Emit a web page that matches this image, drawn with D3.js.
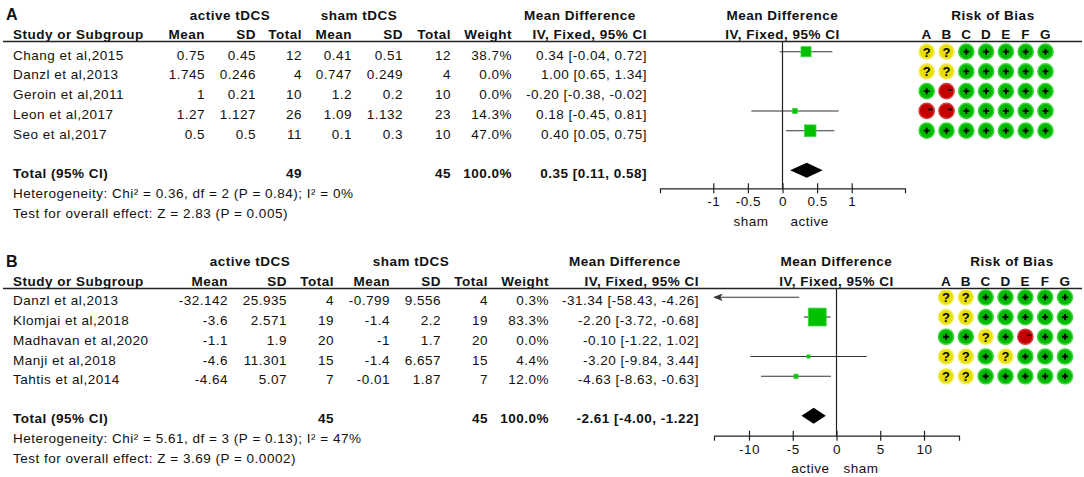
<!DOCTYPE html>
<html><head><meta charset="utf-8">
<script src="https://cdn.jsdelivr.net/npm/d3@7"></script>
<style>
body{margin:0;background:#fff;}
svg text{font-family:"Liberation Sans",Arial,sans-serif;font-size:13.5px;fill:#111;letter-spacing:0.5px;}
svg text.b{font-weight:bold;}
</style></head><body>
<svg id="c" width="1084" height="477"></svg>
<script>
// ---------- Panel A data ----------
const studiesA = ["Chang et al,2015","Danzl et al,2013","Geroin et al,2011","Leon et al,2017","Seo et al,2017"];
const activeMeanA = [0.75,1.745,1,1.27,0.5];
const activeSDA = [0.45,0.246,0.21,1.127,0.5];
const activeNA = [12,4,10,26,11];
const shamMeanA = [0.41,0.747,1.2,1.09,0.1];
const shamSDA = [0.51,0.249,0.2,1.132,0.3];
const shamNA = [12,4,10,23,10];
const weightA = [38.7,0.0,0.0,14.3,47.0];
const mdA = [0.34,1.00,-0.20,0.18,0.40];
const loA = [-0.04,0.65,-0.38,-0.45,0.05];
const hiA = [0.72,1.34,-0.02,0.81,0.75];
const robA = ["??+++++","??+++++","+-+++++","--+++++","+++++++"];
const totalA = [49,45,100.0,0.35,0.11,0.58];
const hetA = "Heterogeneity: Chi² = 0.36, df = 2 (P = 0.84); I² = 0%";
const testA = "Test for overall effect: Z = 2.83 (P = 0.005)";
const ticksA = [-1,-0.5,0,0.5,1];
const favA = ["sham","active"];

// ---------- Panel B data ----------
const studiesB = ["Danzl et al,2013","Klomjai et al,2018","Madhavan et al,2020","Manji et al,2018","Tahtis et al,2014"];
const activeMeanB = [-32.142,-3.6,-1.1,-4.6,-4.64];
const activeSDB = [25.935,2.571,1.9,11.301,5.07];
const activeNB = [4,19,20,15,7];
const shamMeanB = [-0.799,-1.4,-1,-1.4,-0.01];
const shamSDB = [9.556,2.2,1.7,6.657,1.87];
const shamNB = [4,19,20,15,7];
const weightB = [0.3,83.3,0.0,4.4,12.0];
const mdB = [-31.34,-2.20,-0.10,-3.20,-4.63];
const loB = [-58.43,-3.72,-1.22,-9.84,-8.63];
const hiB = [-4.26,-0.68,1.02,3.44,-0.63];
const robB = ["??+++++","??+++++","++?+-++","??+?+++","??+++++"];
const totalB = [45,45,100.0,-2.61,-4.00,-1.22];
const hetB = "Heterogeneity: Chi² = 5.61, df = 3 (P = 0.13); I² = 47%";
const testB = "Test for overall effect: Z = 3.69 (P = 0.0002)";
const ticksB = [-10,-5,0,5,10];
const favB = ["active","sham"];

const robLetters = ["A","B","C","D","E","F","G"];

const svg = d3.select("#c");
const f2 = v => v.toFixed(2);
const ciText = (m,l,h) => f2(m) + " [" + f2(l) + ", " + f2(h) + "]";
const boxSize = d3.scalePow().exponent(0.75).domain([0,100]).range([0,20.5]);

function panel(d, L) {
  const g = svg.append("g");
  const y = d3.scaleLinear().domain([0,6]).range([L.row0, L.rowTot]);
  const x = L.x;
  const txt = (s, xx, yy, anchor, bold) => g.append("text").attr("x", xx).attr("y", yy)
      .attr("text-anchor", anchor || "start").attr("class", bold ? "b" : null).text(s);

  // panel label
  g.append("text").attr("x", 6).attr("y", L.labelY).attr("class","b").style("font-size","16px").text(d.label);
  // group headers
  txt("active tDCS", L.grp[0], L.h1, "middle", true);
  txt("sham tDCS", L.grp[1], L.h1, "middle", true);
  txt("Mean Difference", L.grp[2], L.h1, "middle", true);
  txt("Mean Difference", x(0), L.h1, "middle", true);
  txt("Risk of Bias", L.robHead, L.h1, "middle", true);
  // column headers
  const C = L.cols;
  txt("Study or Subgroup", 13, L.h2, "start", true);
  txt("Mean", C[0], L.h2, "end", true);
  txt("SD", C[1], L.h2, "end", true);
  txt("Total", C[2], L.h2, "end", true);
  txt("Mean", C[3], L.h2, "end", true);
  txt("SD", C[4], L.h2, "end", true);
  txt("Total", C[5], L.h2, "end", true);
  txt("Weight", C[6], L.h2, "end", true);
  txt("IV, Fixed, 95% CI", C[7], L.h2, "end", true);
  txt("IV, Fixed, 95% CI", x(0), L.h2, "middle", true);
  robLetters.forEach(l => txt(l, L.robX(l), L.h2, "middle", true));
  // rule
  g.append("line").attr("x1", 3).attr("x2", 1082).attr("y1", L.rule).attr("y2", L.rule)
    .attr("stroke", "#222").attr("stroke-width", 1.3);

  // rows
  d.studies.forEach((s, i) => {
    const yy = y(i), ty = yy + 8;
    txt(s, 13, ty);
    txt(String(d.aM[i]), C[0], ty, "end");
    txt(String(d.aSD[i]), C[1], ty, "end");
    txt(String(d.aN[i]), C[2], ty, "end");
    txt(String(d.sM[i]), C[3], ty, "end");
    txt(String(d.sSD[i]), C[4], ty, "end");
    txt(String(d.sN[i]), C[5], ty, "end");
    txt(d.w[i].toFixed(1) + "%", C[6], ty, "end");
    txt(ciText(d.md[i], d.lo[i], d.hi[i]), C[7], ty, "end");

    if (d.w[i] > 0) {
      const [d0, d1] = x.domain();
      const l = Math.max(d.lo[i], d0), h = Math.min(d.hi[i], d1);
      g.append("line").attr("x1", x(l)).attr("x2", x(h)).attr("y1", yy).attr("y2", yy)
        .attr("stroke", "#333").attr("stroke-width", 1.1);
      if (d.lo[i] < d0) {
        const ax = x(d0);
        g.append("path").attr("d", `M${ax},${yy} L${ax+8},${yy-3.2} L${ax+6},${yy} L${ax+8},${yy+3.2} Z`)
          .attr("fill", "#333").attr("stroke", "#333").attr("stroke-width", 0.6);
      }
      if (d.hi[i] > d1) {
        const ax = x(d1);
        g.append("path").attr("d", `M${ax},${yy} L${ax-8},${yy-3.2} L${ax-6},${yy} L${ax-8},${yy+3.2} Z`)
          .attr("fill", "#333");
      }
      if (d.md[i] >= d0 && d.md[i] <= d1) {
        const sz = Math.max(3.3, boxSize(d.w[i]));
        g.append("rect").attr("x", x(d.md[i]) - sz/2).attr("y", yy - sz/2)
          .attr("width", sz).attr("height", sz)
          .attr("fill", "#00c000").attr("stroke", "#3fd43f").attr("stroke-width", 0.8);
      }
    }
    // risk of bias
    d.rob[i].split("").forEach((r, j) => {
      const cx = L.robX(robLetters[j]);
      const fill = r === "+" ? "#00b800" : r === "?" ? "#e8de00" : "#c40000";
      const ring = r === "+" ? "#3ad83a" : r === "?" ? "#f3ee6a" : "#d43c3c";
      g.append("circle").attr("cx", cx).attr("cy", yy).attr("r", 7.6)
        .attr("fill", fill).attr("stroke", ring).attr("stroke-width", 1.5);
      if (r === "+") {
        g.append("path").attr("d", `M${cx-3},${yy} H${cx+3} M${cx},${yy-3} V${yy+3}`)
          .attr("stroke", "#000").attr("stroke-width", 1.8);
      } else if (r === "?") {
        g.append("text").attr("x", cx).attr("y", yy + 4.8).attr("text-anchor", "middle")
          .attr("class", "b").style("font-size", "13px").style("letter-spacing", "0px").style("fill", "#000").text("?");
      } else {
        g.append("path").attr("d", `M${cx+1.5},${yy-1.5} H${cx+6}`)
          .attr("stroke", "#000").attr("stroke-width", 1.6);
      }
    });
  });

  // total row
  const yt = y(6), tt = yt + 7.5;
  txt("Total (95% CI)", 13, tt, "start", true);
  txt(String(d.tot[0]), C[2], tt, "end", true);
  txt(String(d.tot[1]), C[5], tt, "end", true);
  txt(d.tot[2].toFixed(1) + "%", C[6], tt, "end", true);
  txt(ciText(d.tot[3], d.tot[4], d.tot[5]), C[7], tt, "end", true);
  const dh = L.diaH;
  g.append("path")
    .attr("d", `M${x(d.tot[4])},${yt} L${x(d.tot[3])},${yt-dh} L${x(d.tot[5])},${yt} L${x(d.tot[3])},${yt+dh} Z`)
    .attr("fill", "#000");
  txt(d.het, 13, y(7) + 8);
  txt(d.test, 13, y(8) + 8);

  // zero line
  g.append("line").attr("x1", x(0)).attr("x2", x(0)).attr("y1", L.rule).attr("y2", L.axisY)
    .attr("stroke", "#222").attr("stroke-width", 1.2);
  // axis
  const ax = g.append("g").attr("transform", `translate(0,${L.axisY})`).attr("color", "#222")
    .call(d3.axisBottom(x).tickValues(d.ticks).tickFormat(v => String(v)).tickSizeOuter(0).tickSize(5));
  ax.select(".domain").attr("stroke-width", 1.2);
  ax.selectAll(".tick line").attr("y1", -5).attr("y2", 5).attr("stroke-width", 1.2);
  ax.selectAll(".tick text").attr("y", 18).attr("dy", 0);
  // favours labels
  txt(d.fav[0], x(0) + L.favOff[0], L.axisY + 37.5, "end");
  txt(d.fav[1], x(0) + L.favOff[1], L.axisY + 37.5, "start");
}

panel({label:"A", studies:studiesA, aM:activeMeanA, aSD:activeSDA, aN:activeNA, sM:shamMeanA, sSD:shamSDA, sN:shamNA,
       w:weightA, md:mdA, lo:loA, hi:hiA, rob:robA, tot:totalA, het:hetA, test:testA, ticks:ticksA, fav:favA},
      {labelY:20, h1:19.5, h2:38.5, rule:41.5, row0:51.7, rowTot:170.2,
       cols:[205,256,302,352,403,451,512,647], grp:[230,359,580], robHead:993,
       x:d3.scaleLinear().domain([-1.77,1.77]).range([660,905]), axisY:188.3, diaH:7.5,
       robX:d3.scalePoint().domain(robLetters).range([926.7,1045.5]), favOff:[-14,8]});

panel({label:"B", studies:studiesB, aM:activeMeanB, aSD:activeSDB, aN:activeNB, sM:shamMeanB, sSD:shamSDB, sN:shamNB,
       w:weightB, md:mdB, lo:loB, hi:hiB, rob:robB, tot:totalB, het:hetB, test:testB, ticks:ticksB, fav:favB},
      {labelY:267, h1:266, h2:286, rule:288.5, row0:297.3, rowTot:415.7,
       cols:[228,287,334,390,441,488,549,699], grp:[250,411,625], robHead:1012,
       x:d3.scaleLinear().domain([-14,14]).range([714,959]), axisY:435.7, diaH:8,
       robX:d3.scalePoint().domain(robLetters).range([946,1065]), favOff:[-7,7]});
</script>
</body></html>
